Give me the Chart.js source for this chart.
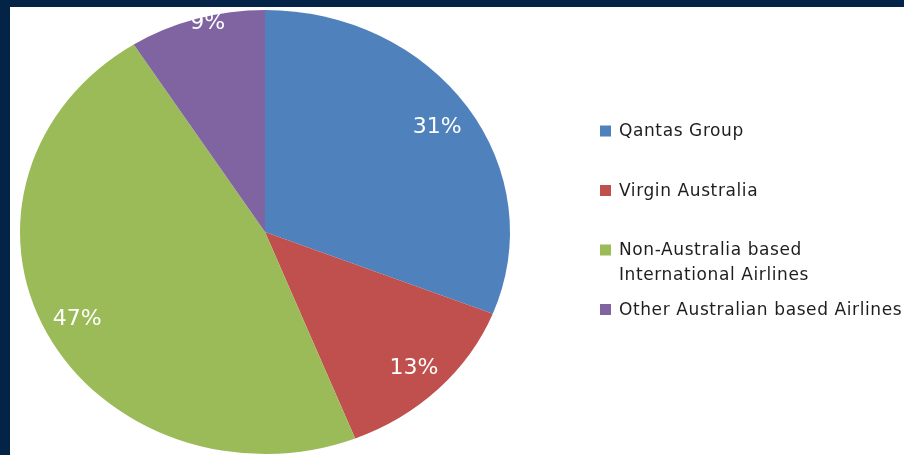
<!DOCTYPE html>
<html>
<head>
<meta charset="utf-8">
<script src="https://cdn.jsdelivr.net/npm/chart.js@4.4.0/dist/chart.umd.min.js"></script>
<style>
  html, body { margin: 0; padding: 0; background: #032446; }
  body { width: 904px; height: 455px; position: relative; overflow: hidden; }
  #wrap { position: absolute; left: 10px; top: 7px; width: 894px; height: 448px; background: #fff; }
</style>
</head>
<body>
<div id="wrap"><canvas id="shareChart"></canvas></div>
<script>
// market share by airline group
const categories = ["Qantas Group", "Virgin Australia", "Non-Australia based International Airlines", "Other Australian based Airlines"];
const legendLines = [["Qantas Group"], ["Virgin Australia"], ["Non-Australia based", "International Airlines"], ["Other Australian based Airlines"]];
const shares = [31, 13, 47, 9];
const sliceColors = ["#4F81BD", "#C0504D", "#9BBB59", "#8064A2"];

// label distance from centre, as part of the radius
const labelRadius = [0.85, 0.86, 0.86, 0.985];
const stretchX = 245 / 222; // the pie is a little wider than tall

const ellipsePlugin = {
    id: "ellipse",
    beforeDatasetsDraw(chart) {
        const arc = chart.getDatasetMeta(0).data[0];
        const ctx = chart.ctx;
        ctx.save();
        ctx.translate(arc.x, arc.y);
        ctx.scale(stretchX, 1);
        ctx.translate(-arc.x, -arc.y);
    },
    afterDatasetsDraw(chart) {
        chart.ctx.restore();
    },
};

// drawn after everything so the chart area clip does not cut the top label
const labelPlugin = {
    id: "pctLabels",
    afterDraw(chart) {
        const ctx = chart.ctx;
        const meta = chart.getDatasetMeta(0);
        ctx.save();
        ctx.fillStyle = "#ffffff";
        ctx.font = "22px 'DejaVu Sans'";
        ctx.textAlign = "center";
        ctx.textBaseline = "middle";
        meta.data.forEach((arc, i) => {
            const mid = (arc.startAngle + arc.endAngle) / 2;
            const r = arc.outerRadius * labelRadius[i];
            const x = arc.x + Math.cos(mid) * r * stretchX + (i === 3 ? 10 : 0);
            const y = arc.y + Math.sin(mid) * r;
            ctx.fillText(shares[i] + "%", x, y + 1);
        });
        ctx.restore();
    },
};

const legendPlugin = {
    id: "sideLegend",
    afterDraw(chart) {
        const ctx = chart.ctx;
        const left = 590, top = 124, step = 59.5, lineH = 25, box = 11;
        ctx.save();
        ctx.font = "17px 'DejaVu Sans'";
        ctx.letterSpacing = "0.6px";
        ctx.textBaseline = "middle";
        ctx.textAlign = "left";
        legendLines.forEach((lines, i) => {
            const y = top + i * step;
            ctx.fillStyle = sliceColors[i];
            ctx.fillRect(left, y - box / 2, box, box);
            ctx.fillStyle = "#1e1e1e";
            lines.forEach((t, j) => ctx.fillText(t, left + 19, y + j * lineH + 1));
        });
        ctx.restore();
    },
};

const ctx = document.getElementById("shareChart").getContext("2d");
new Chart(ctx, {
    type: "pie",
    data: {
        labels: categories,
        datasets: [{
            data: shares,
            backgroundColor: sliceColors,
            borderWidth: 0,
        }],
    },
    options: {
        responsive: true,
        maintainAspectRatio: false,
        animation: false,
        layout: { padding: { left: 0, right: 384, top: 3, bottom: 1 } },
        plugins: {
            legend: { display: false },
            tooltip: { enabled: false },
        },
    },
    plugins: [ellipsePlugin, labelPlugin, legendPlugin],
});
</script>
</body>
</html>
